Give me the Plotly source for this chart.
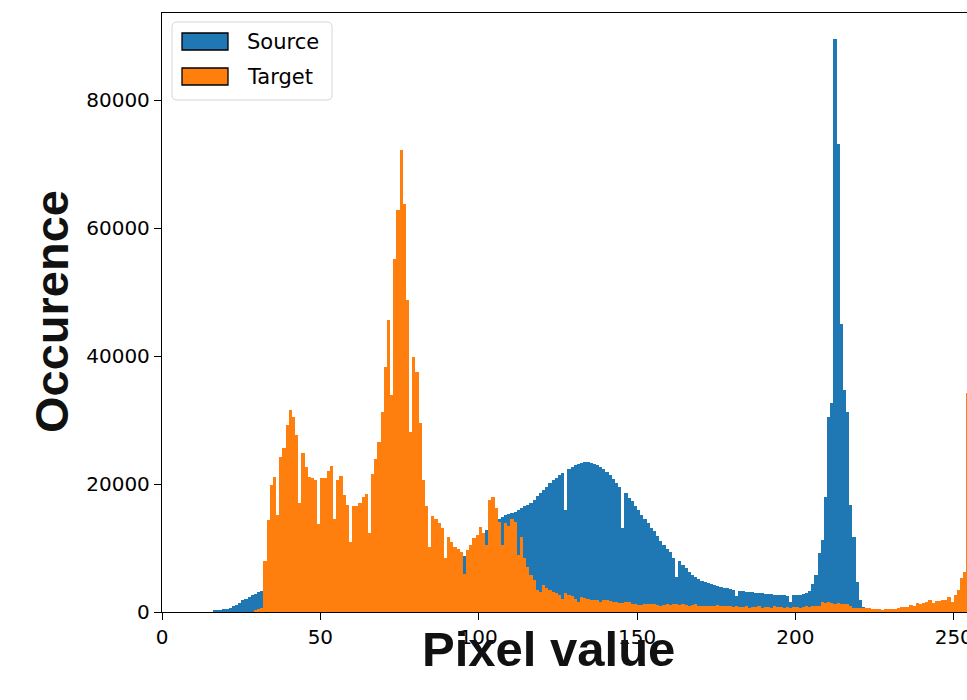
import plotly.graph_objects as go

# ---------------- data ----------------
pixel_values = list(range(256))

source_counts = (
    [0] * 16
    + [250, 300, 350, 400, 500, 650, 900, 1100, 1450, 1800, 2100, 2350, 2600, 2850, 3100, 3300,   # 16-31
       3500, 3650, 3800, 3950, 4100, 4250, 4400, 4500, 4600, 4700, 4800, 4900, 5000, 5100, 5200, 5300,  # 32-47
       5400, 5450, 5500, 5600, 5650, 5700, 5800, 5850, 5900, 6000, 6050, 6100, 6200, 6250, 6300, 6400,  # 48-63
       6450, 6500, 6550, 6600, 6700, 6750, 6800, 6850, 6900, 6950, 7000, 7050, 7100, 7150, 7200, 7250,  # 64-79
       7300, 7350, 7400, 7450, 7500, 7550, 7600, 7650, 7700, 7750, 7850, 7950, 8050, 8200, 8400, 8700,  # 80-95
       9000, 9600, 10300, 11000, 11700, 12300, 12800, 13300, 13700, 14100, 14500, 14900, 15100, 15300, 15500, 15700,  # 96-111
       16000, 16200, 16500, 16800, 17100, 17500, 18100, 18600, 19100, 19600, 20100, 20600, 21000, 21400, 21800, 15900,  # 112-127
       22300, 22600, 22900, 23100, 23300, 23400, 23400, 23300, 23100, 22900, 22600, 22300, 21900, 21400, 20800, 20200,  # 128-143
       19600, 13200, 18600, 17800, 17300, 16600, 16000, 15200, 14600, 13900, 13200, 12600, 11900, 11100, 10500, 9900,  # 144-159
       9300, 8400, 5400, 7900, 7400, 6800, 6300, 5800, 5400, 5100, 4900, 4700, 4500, 4300, 4200, 4000,  # 160-175
       3900, 3800, 3700, 3600, 3500, 2500, 3300, 3250, 3200, 3100, 3050, 3000, 2950, 2900, 2850, 2800,  # 176-191
       2750, 2700, 2650, 2600, 2600, 2550, 1600, 2600, 2650, 2700, 2800, 3000, 3300, 4400, 5800, 9200,  # 192-207
       11300, 18000, 30500, 32600, 89500, 73200, 45000, 34700, 31300, 16700, 11800, 4700, 1900, 800, 200, 150,  # 208-223
       100, 100, 50]  # 224-226
    + [0] * 29
)

target_counts = (
    [0] * 29
    + [200, 400, 600,  # 29-31
       7900, 14400, 19800, 21100, 15200, 24300, 25600, 29200, 31500, 30500, 27700, 17000, 24900, 22600, 21100, 20900,  # 32-47
       20700, 13800, 20900, 21000, 22100, 22800, 14500, 20600, 21300, 18300, 16700, 11000, 16500, 16500, 17100, 17900,  # 48-63
       18400, 12400, 21600, 23900, 26600, 31300, 38300, 45700, 33900, 55100, 62900, 72200, 63750, 48750, 28200, 39900,  # 64-79
       37500, 29500, 20600, 16500, 10200, 15000, 14600, 13900, 13100, 8400, 11800, 11000, 10200, 9900, 9400, 5900,  # 80-95
       9700, 10500, 11500, 12000, 13300, 12400, 10500, 17500, 18000, 16200, 14100, 10500, 13900, 13400, 14600, 14100,  # 96-111
       8900, 11800, 8400, 7100, 5800, 5000, 3400, 3200, 4200, 3700, 3400, 3200, 2900, 2700, 2100, 2900,  # 112-127
       2700, 2500, 2100, 1600, 2300, 2200, 2000, 1800, 1900, 1900, 1600, 1800, 1900, 1700, 1500, 1500,  # 128-143
       1400, 1400, 1500, 1500, 1300, 1200, 1100, 1100, 1300, 1200, 1300, 1200, 1100, 1000, 1100, 1200,  # 144-159
       1100, 1200, 1300, 1100, 1200, 1100, 1000, 1100, 1200, 900, 1000, 900, 1000, 900, 1000, 1100,  # 160-175
       900, 1000, 1000, 900, 800, 900, 800, 800, 900, 700, 800, 800, 900, 700, 800, 800,  # 176-191
       700, 900, 800, 800, 700, 800, 700, 800, 800, 700, 800, 900, 800, 900, 1000, 900,  # 192-207
       1500, 1400, 1500, 1400, 1300, 1400, 1200, 1300, 1200, 900, 700, 700, 700, 600, 600, 600,  # 208-223
       400, 500, 400, 300, 400, 500, 400, 400, 700, 800, 800, 800, 1100, 1000, 1400, 1300,  # 224-239
       1400, 1600, 1900, 1400, 1700, 1700, 1800, 1900, 2400, 1600, 2700, 3400, 5300, 6300, 34200, 34200]  # 240-255
)

x_tick_values = [0, 50, 100, 150, 200, 250]
x_tick_labels = ["0", "50", "100", "150", "200", "250"]
y_tick_values = [0, 20000, 40000, 60000, 80000]
y_tick_labels = ["0", "20000", "40000", "60000", "80000"]

series_names = ["Source", "Target"]
x_title = "Pixel value"
y_title = "Occurence"

# ---------------- styling ----------------
# The figure is slightly wider than the 967px window: like the reference,
# the right end of the axes is cut off by the window edge.
W, H = 976, 700
L, R, T, B = 162, 0, 13, 88
PW, PH = W - L - R, H - T - B
PX_PER_UNIT = 3.167
BLUE = "#1f77b4"
ORANGE = "#ff7f0e"
TICK_FONT = dict(family="DejaVu Sans", size=20, color="#000000")


def px_x(p):
    return (p - L) / PW


def px_y(p):
    return (H - B - p) / PH


centers = [v + 0.5 for v in pixel_values]

fig = go.Figure()
fig.add_trace(go.Bar(x=centers, y=source_counts, width=1, name=series_names[0],
                     marker=dict(color=BLUE, line=dict(width=0))))
fig.add_trace(go.Bar(x=centers, y=target_counts, width=1, name=series_names[1],
                     marker=dict(color=ORANGE, line=dict(width=0))))

x_max = PW / PX_PER_UNIT
y_max = max(source_counts) * 1.046

fig.update_layout(
    width=W, height=H,
    margin=dict(l=L, r=R, t=T, b=B, pad=0),
    paper_bgcolor="white", plot_bgcolor="white",
    barmode="overlay", bargap=0,
    showlegend=False,
    xaxis=dict(range=[0, x_max], tickvals=x_tick_values, ticktext=x_tick_labels,
               ticks="outside", ticklen=7, tickwidth=1.3, tickcolor="black",
               showline=True, linecolor="black", linewidth=1.3, mirror=True,
               showgrid=False, zeroline=False, tickfont=TICK_FONT, automargin=False),
    yaxis=dict(range=[0, y_max], tickvals=y_tick_values, ticktext=y_tick_labels,
               ticks="outside", ticklen=7, tickwidth=1.3, tickcolor="black",
               showline=True, linecolor="black", linewidth=1.3,
               showgrid=False, zeroline=False, tickfont=TICK_FONT, automargin=False),
)

# axis titles
fig.add_annotation(text=f"<b>{x_title}</b>", xref="paper", yref="paper",
                   x=px_x(548), y=px_y(649), xanchor="center", yanchor="middle",
                   showarrow=False,
                   font=dict(family="Liberation Sans", size=49, color="#111111"))
fig.add_annotation(text=f"<b>{y_title}</b>", xref="paper", yref="paper",
                   x=px_x(51), y=px_y(312), xanchor="center", yanchor="middle",
                   textangle=-90, showarrow=False,
                   font=dict(family="Liberation Sans", size=47, color="#111111"))

# legend box (rounded)
x0, x1, y0, y1, r = 172, 332, 22, 100, 5
def pt(a, b):
    return f"{px_x(a):.5f},{px_y(b):.5f}"
path = (f"M {pt(x0 + r, y0)} L {pt(x1 - r, y0)} Q {pt(x1, y0)} {pt(x1, y0 + r)} "
        f"L {pt(x1, y1 - r)} Q {pt(x1, y1)} {pt(x1 - r, y1)} "
        f"L {pt(x0 + r, y1)} Q {pt(x0, y1)} {pt(x0, y1 - r)} "
        f"L {pt(x0, y0 + r)} Q {pt(x0, y0)} {pt(x0 + r, y0)} Z")
fig.add_shape(type="path", path=path, xref="paper", yref="paper",
              line=dict(color="#d6d6d6", width=1), fillcolor="rgba(255,255,255,0.85)")

legend_rows = [(series_names[0], BLUE, 33, 50), (series_names[1], ORANGE, 68, 85)]
for name, col, ya, yb in legend_rows:
    fig.add_shape(type="rect", xref="paper", yref="paper",
                  x0=px_x(182), x1=px_x(228), y0=px_y(yb), y1=px_y(ya),
                  line=dict(color="black", width=1.3), fillcolor=col)
    fig.add_annotation(text=name, xref="paper", yref="paper",
                       x=px_x(245), y=px_y((ya + yb) / 2), xanchor="left", yanchor="middle",
                       showarrow=False, font=dict(family="DejaVu Sans", size=21, color="#000000"))

fig.write_html(
    "out.html",
    config={"displayModeBar": False},
    post_script="document.body.style.margin='0';document.body.style.padding='0';"
                "document.documentElement.style.overflow='hidden';",
)
